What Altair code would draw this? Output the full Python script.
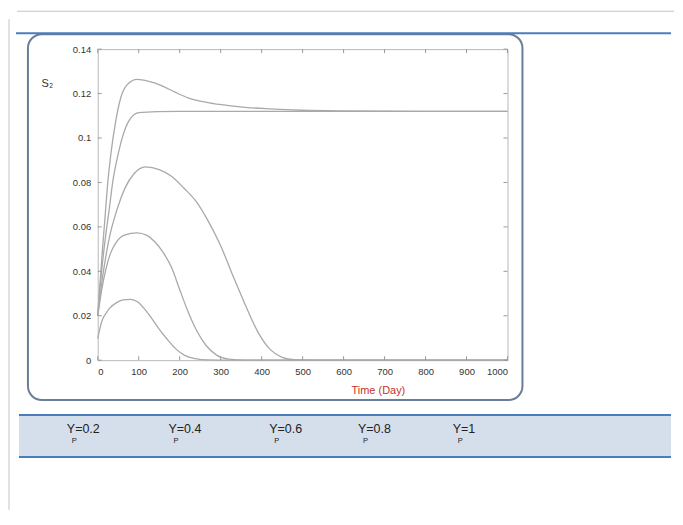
import altair as alt
import pandas as pd

# ---- data ----
series_names = ["Y_P=0.2", "Y_P=0.4", "Y_P=0.6", "Y_P=0.8", "Y_P=1"]

time_e = [0, 5, 12, 20, 28, 45, 62, 80, 98, 117, 133, 149, 170, 190, 212, 238, 270, 320, 400, 1000]
s2_e = [0.0097, 0.014, 0.0185, 0.021, 0.0232, 0.0258, 0.0271, 0.0274, 0.0262, 0.0224, 0.0185, 0.0142, 0.0093, 0.0052, 0.0022, 0.0007, 0.0001, 0.0, 0.0, 0.0]

time_d = [0, 10, 20, 30, 45, 65, 96, 120, 140, 160, 180, 200, 220, 240, 265, 290, 320, 360, 1000]
s2_d = [0.02, 0.032, 0.041, 0.0475, 0.053, 0.0563, 0.0573, 0.0562, 0.0532, 0.0484, 0.0418, 0.0318, 0.022, 0.0138, 0.0065, 0.0023, 0.0005, 0.0, 0.0]

time_c = [0, 10, 20, 30, 40, 52, 68, 88, 117, 150, 180, 210, 240, 270, 300, 330, 360, 390, 420, 450, 480, 520, 1000]
s2_c = [0.02, 0.035, 0.047, 0.0565, 0.0635, 0.0705, 0.078, 0.0838, 0.087, 0.0858, 0.0828, 0.0775, 0.0715, 0.0625, 0.0515, 0.038, 0.025, 0.013, 0.005, 0.0013, 0.0002, 0.0, 0.0]

time_b = [0, 10, 20, 27.6, 37, 48, 60, 76, 100, 145, 200, 400, 700, 1000]
s2_b = [0.02, 0.041, 0.057, 0.0673, 0.0807, 0.0912, 0.1002, 0.1077, 0.1114, 0.1119, 0.112, 0.112, 0.112, 0.112]

time_a = [0, 5, 10, 17.8, 23.5, 32, 44, 56, 72, 96, 125, 157, 190, 222, 250, 283, 320, 360, 420, 500, 600, 800, 1000]
s2_a = [0.02, 0.033, 0.046, 0.0643, 0.0778, 0.0927, 0.1077, 0.118, 0.124, 0.1264, 0.1255, 0.1235, 0.1205, 0.118, 0.1166, 0.1155, 0.1146, 0.1138, 0.1131, 0.1125, 0.1122, 0.112, 0.112]

x_ticks = [0, 100, 200, 300, 400, 500, 600, 700, 800, 900, 1000]
y_ticks = [0, 0.02, 0.04, 0.06, 0.08, 0.1, 0.12, 0.14]

band_labels = ["Y=0.2", "Y=0.4", "Y=0.6", "Y=0.8", "Y=1"]

# ---- build table ----
rows = []
for name, ts, vs in zip(series_names,
                        [time_e, time_d, time_c, time_b, time_a],
                        [s2_e, s2_d, s2_c, s2_b, s2_a]):
    for t, v in zip(ts, vs):
        rows.append({"series": name, "time": t, "s2": v})
df = pd.DataFrame(rows)

W, H = 411, 312
FONT = "Liberation Sans"

x_scale = alt.Scale(domain=[0, 1000], nice=False, zero=False)
y_scale = alt.Scale(domain=[0, 0.14], nice=False)

lines = alt.Chart(df).mark_line(
    interpolate="monotone", color="#a9a9a9", strokeWidth=1.3
).encode(
    x=alt.X("time:Q", scale=x_scale,
            axis=alt.Axis(values=x_ticks, format="d", title="Time (Day)",
                          domain=False, ticks=False, grid=False,
                          labelFont=FONT, labelFontSize=9.5, labelColor="#333333",
                          labelPadding=6,
                          titleFont=FONT, titleFontSize=11, titleFontWeight="normal",
                          titleColor="#c9302c", titleX=281, titleY=30,
                          titleBaseline="middle", titleAlign="center")),
    y=alt.Y("s2:Q", scale=y_scale,
            axis=alt.Axis(values=y_ticks, format="~g", title="S₂",
                          domain=False, ticks=False, grid=False,
                          labelFont=FONT, labelFontSize=9.5, labelColor="#333333",
                          labelPadding=7,
                          titleFont=FONT, titleFontSize=11, titleFontWeight="normal",
                          titleColor="#333333", titleAngle=0, titleX=-51, titleY=34,
                          titleAlign="center", titleBaseline="middle")),
    detail="series:N",
)

xt = pd.DataFrame({"time": x_ticks})
yt = pd.DataFrame({"s2": y_ticks})
tick_col = "#9a9a9a"
xt_bottom = alt.Chart(xt).mark_rule(color=tick_col).encode(
    x="time:Q", y=alt.value(H), y2=alt.value(H - 4))
xt_top = alt.Chart(xt).mark_rule(color=tick_col).encode(
    x="time:Q", y=alt.value(0), y2=alt.value(4))
yt_left = alt.Chart(yt).mark_rule(color=tick_col).encode(
    y="s2:Q", x=alt.value(0), x2=alt.value(4))
yt_right = alt.Chart(yt).mark_rule(color=tick_col).encode(
    y="s2:Q", x=alt.value(W), x2=alt.value(W - 4))

one = alt.Data(values=[{}])

# page decorations
outer_top = alt.Chart(one).mark_rule(color="#c4c4c4", strokeWidth=1).encode(
    x=alt.value(-81), x2=alt.value(578), y=alt.value(-38))
outer_left = alt.Chart(one).mark_rule(color="#c4c4c4", strokeWidth=1).encode(
    x=alt.value(-89), y=alt.value(-30), y2=alt.value(462))
blue_top = alt.Chart(one).mark_rule(color="#4a7ebb", strokeWidth=2).encode(
    x=alt.value(-82), x2=alt.value(575), y=alt.value(-16))
panel = alt.Chart(one).mark_rect(
    filled=False, stroke="#6b7d99", strokeWidth=2, cornerRadius=14
).encode(x=alt.value(-70), x2=alt.value(426), y=alt.value(-15), y2=alt.value(352))
band = alt.Chart(one).mark_rect(fill="#d4dfeb").encode(
    x=alt.value(-79), x2=alt.value(575), y=alt.value(367), y2=alt.value(409))
band_top = alt.Chart(one).mark_rule(color="#4a7ebb", strokeWidth=2).encode(
    x=alt.value(-79), x2=alt.value(575), y=alt.value(367))
band_bot = alt.Chart(one).mark_rule(color="#4a7ebb", strokeWidth=2).encode(
    x=alt.value(-79), x2=alt.value(575), y=alt.value(409))

label_x = [-31, 71, 172, 261, 356]
label_layers = []
for lx, lab in zip(label_x, band_labels):
    label_layers.append(alt.Chart(one).mark_text(
        text=lab, font=FONT, fontSize=12.5, color="#222222", align="left", baseline="middle"
    ).encode(x=alt.value(lx), y=alt.value(381)))
    label_layers.append(alt.Chart(one).mark_text(
        text="P", font=FONT, fontSize=7.5, color="#222222", align="center", baseline="middle"
    ).encode(x=alt.value(lx + 7.5), y=alt.value(393)))

chart = alt.layer(
    outer_top, outer_left, panel, blue_top, band, band_top, band_bot,
    lines, xt_bottom, xt_top, yt_left, yt_right, *label_layers
).properties(
    width=W, height=H,
    padding={"left": 0, "top": 1.5, "right": 0, "bottom": 0},
    background="white",
).configure_view(stroke="#b8b8b8", strokeWidth=1)

chart.save("out.html", embed_options={"renderer": "svg", "actions": False})
